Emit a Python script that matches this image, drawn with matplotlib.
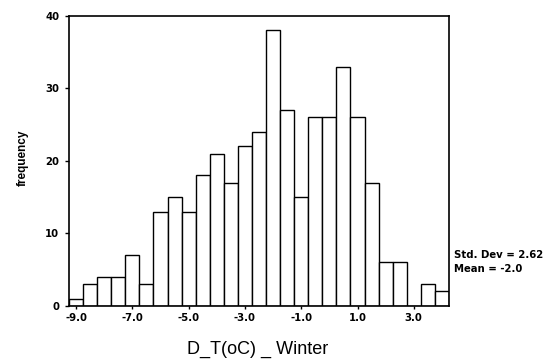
import matplotlib
matplotlib.use("Agg")
import matplotlib.pyplot as plt
import numpy as np

# bin centers (width 0.5) and counts
bin_start = -9.0
bin_width = 0.5
counts = [1, 3, 4, 4, 7, 3, 13, 15, 13, 18, 21, 17, 22, 24, 38,
          27, 15, 26, 26, 33, 26, 17, 6, 6, 0, 3, 2]
xticks = [-9.0, -7.0, -5.0, -3.0, -1.0, 1.0, 3.0]
xtick_labels = ["-9.0", "-7.0", "-5.0", "-3.0", "-1.0", "1.0", "3.0"]
yticks = [0, 10, 20, 30, 40]
stats_lines = ["Std. Dev = 2.62", "Mean = -2.0"]

centers = bin_start + bin_width * np.arange(len(counts))

plt.rcParams['font.family'] = ['Liberation Sans', 'DejaVu Sans']

fig = plt.figure(figsize=(5.55, 3.61), dpi=100)
ax = fig.add_axes([0.1243, 0.1524, 0.809 - 0.1243, 0.9557 - 0.1524])

ax.bar(centers, counts, width=bin_width, facecolor='white',
       edgecolor='black', linewidth=1.0, align='center')

tick_font = dict(family='DejaVu Sans', weight='bold', size=7.3)
ax.set_xlim(bin_start - bin_width / 2, centers[-1] + bin_width / 2)
ax.set_ylim(0, 40)
ax.set_xticks(xticks)
ax.set_xticklabels(xtick_labels, fontdict=tick_font)
ax.set_yticks(yticks)
ax.set_yticklabels([str(v) for v in yticks], fontdict=tick_font)
ax.tick_params(axis='x', length=2, width=1, pad=3)
ax.tick_params(axis='y', length=3, width=1, pad=4)
for s in ax.spines.values():
    s.set_linewidth(1.2)

ax.set_xlabel("D_T(oC) _ Winter", fontsize=13, va='center')
ax.xaxis.set_label_coords((258 - 69) / 380, -(349 - 306) / 290)
ax.set_ylabel("frequency", fontsize=8.5, fontweight='bold', va='center')
ax.yaxis.set_label_coords(-(69 - 23) / 380, (306 - 157.5) / 290)

stat_font = dict(family='DejaVu Sans', weight='bold', size=7.3)
fig.text(454 / 555, 1 - 255 / 361, stats_lines[0], fontdict=stat_font,
         va='center', ha='left')
fig.text(454 / 555, 1 - 269 / 361, stats_lines[1], fontdict=stat_font,
         va='center', ha='left')

fig.savefig("out.png", dpi=100)
